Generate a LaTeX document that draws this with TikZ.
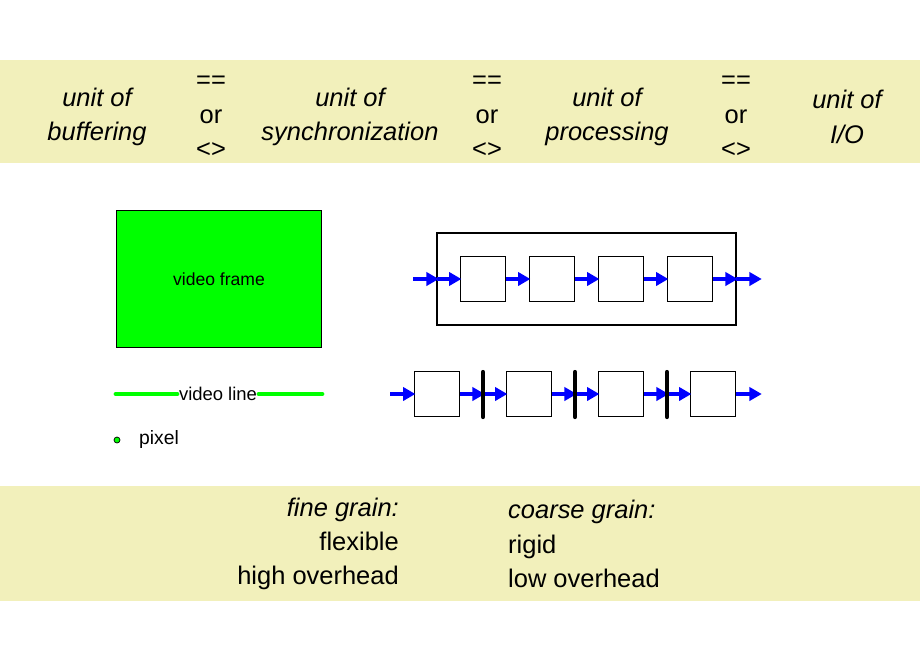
\documentclass[tikz,border=0pt]{standalone}
\usepackage{fontspec}
\setmainfont{Liberation Sans}
\usetikzlibrary{arrows.meta,positioning}
\definecolor{band}{RGB}{242,240,187}
\tikzset{
  big/.style={font=\fontsize{14.5}{19.5}\selectfont,align=center},
  stage/.style={draw,line width=0.6pt,minimum width=26pt,minimum height=26pt,inner sep=0pt},
  flow/.style={blue,line width=2.2pt,-{Triangle[length=7pt,width=7.5pt]},shorten >=-1pt},
  bar/.style={line width=2.4pt,line cap=round},
}
\begin{document}
\begin{tikzpicture}[x=0.02cm,y=-0.02cm]
\useasboundingbox (0,0) rectangle (920,660);
% bands
\fill[band] (0,60) rectangle (920,163);
\fill[band] (0,486) rectangle (920,601);
\node[big] (buf) at (97,117) {\itshape unit of\\\itshape buffering};
\node[big] (eq1) at (211,117) {==\\or\\<>};
\node[big] (syn) at (350,117) {\itshape unit of\\\itshape synchronization};
\node[big] (eq2) at (487,117) {==\\or\\<>};
\node[big] (proc) at (607,117) {\itshape unit of\\\itshape processing};
\node[big] (eq3) at (736,117) {==\\or\\<>};
\node[big] (io) at (847,117) {\itshape unit of\\\itshape I/O};
% left
\node[draw,fill=green,line width=0.6pt,minimum width=116.5pt,minimum height=77.5pt,
  font=\fontsize{10}{12}\selectfont] (frame) at (219,279) {video frame};
\node[font=\fontsize{10.5}{12}\selectfont,inner sep=1pt] (vline) at (218,394) {video line};
\coordinate (vl0) at (116,394);
\coordinate (vl1) at (322,394);
\draw[green,line width=2.8pt,line cap=round] (vl0) -- (vline.west) (vline.east) -- (vl1);
\node[circle,draw,fill=green,inner sep=0pt,minimum size=3.4pt,line width=0.4pt] (px) at (117,440) {};
\node[font=\fontsize{11}{13}\selectfont,anchor=west] (pxl) at (133,439) {pixel};
% top chain
\draw[line width=0.6pt] (437,233) rectangle (736,325);
\foreach \i/\x in {1/483,2/552,3/621,4/690}
  \node[stage] (t\i) at (\x,279) {};
\coordinate (tin) at (413,279);
\coordinate (tin2) at (437,279);
\coordinate (tout) at (736,279);
\coordinate (tout2) at (760,279);
\draw[flow] (tin) -- (tin2);
\draw[flow] (tin2) -- (t1.west);
\draw[flow] (t1) -- (t2);
\draw[flow] (t2) -- (t3);
\draw[flow] (t3) -- (t4);
\draw[flow] (t4.east) -- (tout);
\draw[flow] (tout) -- (tout2);
% bottom chain
\foreach \i/\x in {1/437,2/529,3/621,4/713}
  \node[stage] (b\i) at (\x,394) {};
\coordinate (bin) at (390,394);
\coordinate (bout) at (760,394);
\draw[flow] (bin) -- (b1.west);
\foreach \i/\j/\x in {1/2/483,2/3/575,3/4/667}{
  \coordinate (m\i) at (\x,394);
  \draw[flow] (b\i.east) -- (m\i);
  \draw[flow] (m\i) -- (b\j.west);
  \draw[bar] (\x,372) -- (\x,417);
}
\draw[flow] (b4.east) -- (bout);
% bottom text
\node[big,align=right,anchor=east] (fine) at (405,544) {\itshape fine grain:\\flexible\\high overhead};
\node[big,align=left,anchor=west] (coarse) at (502,544) {\itshape coarse grain:\\rigid\\low overhead};
\end{tikzpicture}
\end{document}
